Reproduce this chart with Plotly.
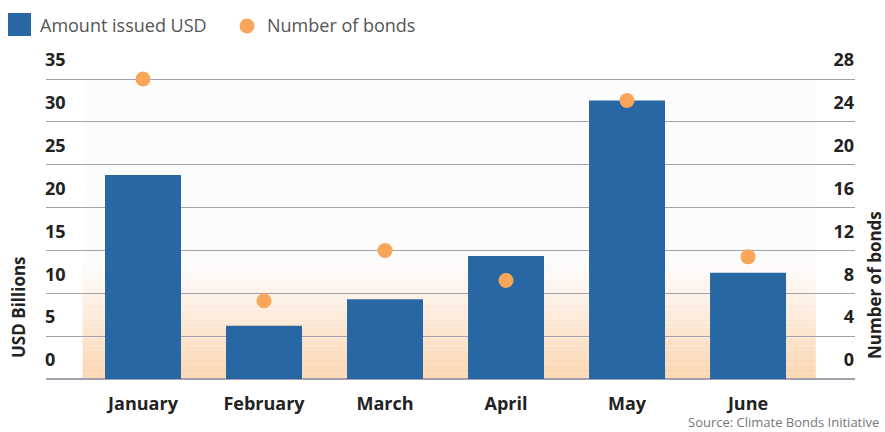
import plotly.graph_objects as go

# Monthly green bond issuance
months = ["January", "February", "March", "April", "May", "June"]
amount_usd_bn = [23.8, 6.2, 9.3, 14.35, 32.5, 12.4]
num_bonds = [28, 7.3, 12, 9.2, 26, 11.4]

left_ticks = [0, 5, 10, 15, 20, 25, 30, 35]
right_ticks = [0, 4, 8, 12, 16, 20, 24, 28]

W, H = 885, 432
# plot area: x 46..855, y 40..379 (value 35 / 28 sits at y=79)
ML, MR, MT, MB = 46, 30, 40, 53
PW, PH = W - ML - MR, H - MT - MB
LEFT_MAX = 35 + 39 / (300 / 35)
RIGHT_MAX = 28 + 39 / (300 / 28)

BAR_COLOR = "#2767a3"
DOT_COLOR = "#f9a65a"
FONT = "Open Sans"


def px_x(px):
    return (px - ML) / PW


def px_y(py):
    return (H - MB - py) / PH


fig = go.Figure()

fig.add_trace(go.Bar(
    x=months, y=amount_usd_bn, name="Amount issued USD",
    marker=dict(color=BAR_COLOR, line=dict(width=0)),
    yaxis="y", showlegend=False,
))
fig.add_trace(go.Scatter(
    x=months, y=num_bonds, name="Number of bonds", mode="markers",
    marker=dict(color=DOT_COLOR, size=15, line=dict(width=0)),
    yaxis="y2", showlegend=False, cliponaxis=False,
))

# Soft peach band behind the lower part of the chart
shapes = []
band_top = 13.5
n_strips = 45
bottom_rgb = (252, 214, 177)
top_rgb = (253, 252, 252)
for i in range(n_strips):
    t = i / (n_strips - 1)
    r = round(bottom_rgb[0] + (top_rgb[0] - bottom_rgb[0]) * t)
    g = round(bottom_rgb[1] + (top_rgb[1] - bottom_rgb[1]) * t)
    b = round(bottom_rgb[2] + (top_rgb[2] - bottom_rgb[2]) * t)
    y0 = band_top * i / n_strips
    y1 = band_top * (i + 1) / n_strips + 0.02
    shapes.append(dict(type="rect", xref="x", yref="y", x0=-0.5, x1=5.56,
                       y0=y0, y1=y1, fillcolor=f"rgb({r},{g},{b})",
                       line=dict(width=0), layer="below"))
shapes.append(dict(type="rect", xref="x", yref="y", x0=-0.5, x1=5.56,
                   y0=band_top, y1=35, fillcolor="#fdfcfc",
                   line=dict(width=0), layer="below"))

# Legend swatches
shapes.append(dict(type="rect", xref="paper", yref="paper",
                   x0=px_x(8), x1=px_x(31), y0=px_y(36), y1=px_y(13),
                   fillcolor=BAR_COLOR, line=dict(width=0)))
shapes.append(dict(type="circle", xref="paper", yref="paper",
                   x0=px_x(239.5), x1=px_x(254.5), y0=px_y(33.5), y1=px_y(18.5),
                   fillcolor=DOT_COLOR, line=dict(width=0)))

annotations = [
    dict(text="Amount issued USD", x=px_x(38), y=px_y(25), xref="paper", yref="paper",
         xanchor="left", yanchor="middle", showarrow=False,
         font=dict(family=FONT, size=18, color="#555555")),
    dict(text="Number of bonds", x=px_x(265), y=px_y(25), xref="paper", yref="paper",
         xanchor="left", yanchor="middle", showarrow=False,
         font=dict(family=FONT, size=18, color="#555555")),
    dict(text="<b>USD Billions</b>", x=px_x(18), y=px_y(307), xref="paper", yref="paper",
         xanchor="center", yanchor="middle", textangle=-90, showarrow=False,
         font=dict(family=FONT, size=17, color="#222222")),
    dict(text="<b>Number of bonds</b>", x=px_x(874), y=px_y(285), xref="paper", yref="paper",
         xanchor="center", yanchor="middle", textangle=-90, showarrow=False,
         font=dict(family=FONT, size=17, color="#222222")),
    dict(text="Source: Climate Bonds Initiative", x=px_x(880), y=px_y(422),
         xref="paper", yref="paper", xanchor="right", yanchor="middle", showarrow=False,
         borderpad=0,
         font=dict(family=FONT, size=13, color="#777777")),
]

fig.update_layout(
    width=W, height=H,
    margin=dict(l=ML, r=MR, t=MT, b=MB, pad=0),
    paper_bgcolor="white", plot_bgcolor="white",
    bargap=0.372,
    shapes=shapes, annotations=annotations,
    font=dict(family=FONT, color="#222222"),
    xaxis=dict(
        type="category", range=[-0.8017, 5.884], showgrid=False, zeroline=False,
        showline=False, ticks="", ticklabelstandoff=12,
        tickfont=dict(family=FONT, size=18, color="#222222", weight="bold"),
    ),
    yaxis=dict(
        range=[0, LEFT_MAX], tickvals=left_ticks, ticktext=[str(v) for v in left_ticks],
        showgrid=True, gridcolor="#a3a1ab", gridwidth=1,
        zeroline=True, zerolinecolor="#a3a1ab", zerolinewidth=1.5,
        showline=False, ticks="", ticklabelposition="inside",
        ticklabelshift=-19, ticklabelstandoff=-4,
        tickfont=dict(family=FONT, size=18, color="#222222", weight="bold"),
    ),
    yaxis2=dict(
        range=[0, RIGHT_MAX], tickvals=right_ticks, ticktext=[str(v) for v in right_ticks],
        overlaying="y", side="right", showgrid=False, zeroline=False,
        showline=False, ticks="", ticklabelposition="inside",
        ticklabelshift=-19, ticklabelstandoff=-2,
        tickfont=dict(family=FONT, size=18, color="#222222", weight="bold"),
    ),
)

fig.write_html("out.html")
